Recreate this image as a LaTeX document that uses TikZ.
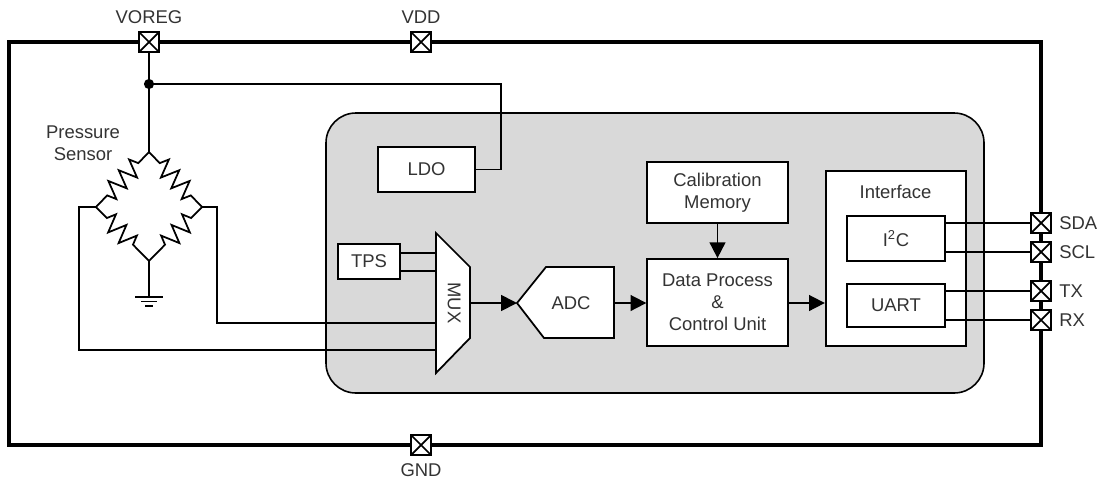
\documentclass[tikz,border=0pt]{standalone}
\usepackage{fontspec}
\setmainfont{Liberation Sans}
\usetikzlibrary{arrows.meta,decorations.pathmorphing}

\definecolor{blockgray}{HTML}{D9D9D9}
\definecolor{labelgray}{HTML}{333333}

\tikzset{
	wire/.style={line width=0.9pt},
	flow/.style={line width=1pt,-{Triangle[length=9pt,width=9pt]}},
	block/.style={draw,fill=white,line width=1pt,inner sep=0pt,text=labelgray,align=center,font=\fontsize{10.5}{12.5}\selectfont},
	pinlabel/.style={inner sep=0pt,text=labelgray,align=center,font=\fontsize{10.5}{12.5}\selectfont},
	pad/.style={draw,fill=white,line width=1.1pt,minimum size=11pt,inner sep=0pt,
		path picture={\draw[line width=1pt] (path picture bounding box.north west) -- (path picture bounding box.south east)
			(path picture bounding box.north east) -- (path picture bounding box.south west);}},
	resistor/.style={line width=1pt,decorate,decoration={zigzag,amplitude=5.2pt,segment length=8.5pt,pre length=8.8pt,post length=8.8pt}},
	resistorflip/.style={line width=1pt,decorate,decoration={zigzag,mirror,amplitude=5.2pt,segment length=8.5pt,pre length=8.8pt,post length=8.8pt}}
}

\begin{document}
\begin{tikzpicture}[x=0.02cm,y=-0.02cm]
	\useasboundingbox (0,0) rectangle (1101,481);

	\draw[line width=2pt] (9,42) rectangle (1041,445);
	\draw[fill=blockgray,line width=0.9pt,rounded corners=17pt] (326,113) rectangle (984,393);

	% pads on the frame
	\foreach \name/\x/\y in {VOREG/149/42,VDD/421/42,GND/421/445,SDA/1041/223,SCL/1041/252,TX/1041/291,RX/1041/320}{
		\node[pad] (\name) at (\x,\y) {};
	}
	\node[pinlabel] (VOREGlabel) at (149,17) {VOREG};
	\node[pinlabel] (VDDlabel) at (421,17) {VDD};
	\node[pinlabel] (GNDlabel) at (421,470) {GND};
	\foreach \name/\y in {SDA/223,SCL/252,TX/291,RX/320}{
		\node[pinlabel,anchor=west] (\name label) at (1059,\y) {\name};
	}
	\node[pinlabel] (sensorlabel) at (83,143) {Pressure\\Sensor};

	% blocks
	\node[block,minimum width=55pt,minimum height=25.5pt] (LDO) at (426.5,169.5) {LDO};
	\node[block,minimum width=80pt,minimum height=35pt] (memory) at (717.5,192.5) {Calibration\\Memory};
	\node[block,minimum width=80pt,minimum height=49.5pt] (process) at (717.5,302.5) {Data Process\\\&\\Control Unit};
	\node[block,minimum width=80pt,minimum height=100pt] (interface) at (896,258.5) {};
	\node[pinlabel] (interfacelabel) at (895.5,192) {Interface};
	\node[block,minimum width=56pt,minimum height=25.5pt] (I2C) at (896,238.5) {I\textsuperscript{2}C};
	\node[block,minimum width=56pt,minimum height=24.5pt] (UART) at (896,305.5) {UART};
	\node[block,minimum width=35pt,minimum height=20pt] (TPS) at (369,261.5) {TPS};

	% mux and adc outlines
	\draw[fill=white,line width=1pt] (436,233) coordinate (muxtop) -- (470,267) -- (470,338) -- (436,373) coordinate (muxbot) -- cycle;
	\node[pinlabel,rotate=-90] (MUX) at (454,303) {MUX};
	\coordinate (muxout) at (470,303);
	\draw[fill=white,line width=1pt] (517,303) coordinate (adcin) -- (546,267) -- (614,267) -- (614,338) -- (544,338) -- cycle;
	\node[pinlabel] (ADC) at (571,303) {ADC};
	\coordinate (adcout) at (614,303);

	% bridge
	\coordinate (bridgetop) at (149,152);
	\coordinate (bridgeleft) at (96,207);
	\coordinate (bridgeright) at (202,207);
	\coordinate (bridgebot) at (149,261);
	\draw[resistorflip] (bridgetop) -- (bridgeleft);
	\draw[resistor] (bridgetop) -- (bridgeright);
	\draw[resistor] (bridgeleft) -- (bridgebot);
	\draw[resistorflip] (bridgeright) -- (bridgebot);

	% ground
	\coordinate (gnd) at (149,297);
	\draw[wire] (bridgebot) -- (gnd);
	\draw[wire] (135,297) -- (163,297);
	\draw[wire] (141,301.5) -- (157,301.5);
	\draw[wire] (145,306) -- (153,306);

	% wires
	\coordinate (junction) at (149,84);
	\draw[wire] (VOREG.south) -- (bridgetop);
	\fill (junction) circle (2.9pt);
	\draw[wire] (junction) -| (501,169.5) -- (LDO.east);
	\draw[wire] (bridgeleft) -- (79,207) |- (436,350) coordinate (muxb);
	\draw[wire] (bridgeright) -- (217,207) |- (436,323) coordinate (muxa);
	\foreach \y in {253,271}{
		\draw[wire] (400,\y) -- (436,\y);
	}
	\draw[flow] (muxout) -- (adcin);
	\draw[flow] (adcout) -- (process.west |- adcout);
	\draw[flow] (process.east |- adcout) -- (interface.west |- adcout);
	\draw[flow] (memory) -- (process);
	\foreach \blockname/\name in {I2C/SDA,I2C/SCL,UART/TX,UART/RX}{
		\draw[wire] (\blockname.east |- \name.west) -- (\name.west);
	}
\end{tikzpicture}
\end{document}
